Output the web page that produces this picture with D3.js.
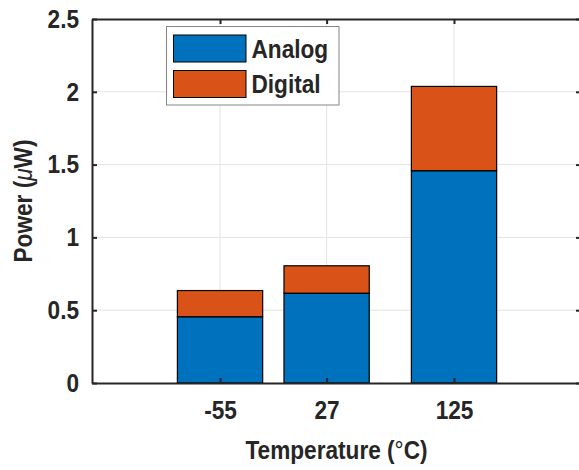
<!DOCTYPE html>
<html>
<head>
<meta charset="utf-8">
<script src="https://cdn.jsdelivr.net/npm/d3@7"></script>
<style>
  body { margin: 0; background: #fff; }
  svg text { font-family: "Liberation Sans", Arial, sans-serif; font-weight: bold; fill: #262626; }
</style>
</head>
<body>
<div id="chart"></div>
<script>
/* Stacked power bars per temperature */

// data
const temps = [-55, 27, 125];
const analog = [0.455, 0.617, 1.458];
const digital = [0.18, 0.188, 0.579];
const seriesNames = ["Analog", "Digital"];
const colors = ["#0072BD", "#D95319"];
const yTicks = [0, 0.5, 1, 1.5, 2, 2.5];

const width = 579,
    height = 470,
    margin = ({ top: 19, right: -2, bottom: 87, left: 92 });

const fontSize = 26,
    squeezeX = 0.87; // the original font is a narrow one

let svg = d3.select("#chart")
    .append("svg")
    .attr("width", width)
    .attr("height", height);

// narrow the glyphs horizontally around the text's own x
function squeeze(sel) {
    sel.each(function () {
        let t = d3.select(this);
        let ax = +t.attr("x") || 0;
        t.attr("transform", `translate(${ax},0) scale(${squeezeX},1) translate(${-ax},0)`);
    });
}

// numeric x axis, like matlab bar()
let x = d3.scaleLinear()
    .domain([-153.5, 222.7])
    .range([margin.left, width - margin.right]);

let y = d3.scaleLinear()
    .domain([0, 2.5])
    .range([height - margin.bottom, margin.top]);

const barW = x(0.8 * 82) - x(0);

// grid
svg.append("g")
    .selectAll("line")
    .data(yTicks.slice(1, -1))
    .join("line")
    .attr("x1", margin.left).attr("x2", width - margin.right)
    .attr("y1", d => y(d)).attr("y2", d => y(d))
    .attr("stroke", "#e3e3e3").attr("stroke-width", 1);

svg.append("g")
    .selectAll("line")
    .data(temps)
    .join("line")
    .attr("x1", d => x(d)).attr("x2", d => x(d))
    .attr("y1", margin.top).attr("y2", height - margin.bottom)
    .attr("stroke", "#e3e3e3").attr("stroke-width", 1);

// stacked bars
let rows = temps.map((t, i) => ({ temp: t, Analog: analog[i], Digital: digital[i] }));
let stacked = d3.stack().keys(seriesNames)(rows);

svg.append("g")
    .selectAll("g")
    .data(stacked)
    .join("g")
    .attr("fill", (d, i) => colors[i])
    .selectAll("rect")
    .data(d => d)
    .join("rect")
    .attr("x", d => x(d.data.temp) - barW / 2)
    .attr("width", barW)
    .attr("y", d => y(d[1]))
    .attr("height", d => y(d[0]) - y(d[1]))
    .attr("stroke", "#000")
    .attr("stroke-width", 1.2);

// axes, ticks pointing inward
const axisColor = "#262626";
let yAxis = svg.append("g")
    .attr("transform", `translate(${margin.left},0)`)
    .call(d3.axisLeft(y).tickValues(yTicks).tickFormat(d => String(d)).tickSizeInner(-5).tickSizeOuter(0).tickPadding(13));

let yAxisR = svg.append("g")
    .attr("transform", `translate(${width - margin.right},0)`)
    .call(d3.axisRight(y).tickValues(yTicks).tickFormat("").tickSizeInner(-5).tickSizeOuter(0));

let xAxis = svg.append("g")
    .attr("transform", `translate(0,${height - margin.bottom})`)
    .call(d3.axisBottom(x).tickValues(temps).tickFormat(d => String(d)).tickSizeInner(-5).tickSizeOuter(0).tickPadding(18));

let xAxisT = svg.append("g")
    .attr("transform", `translate(0,${margin.top})`)
    .call(d3.axisTop(x).tickValues(temps).tickFormat("").tickSizeInner(-5).tickSizeOuter(0));

for (let a of [yAxis, yAxisR, xAxis, xAxisT]) {
    a.select(".domain").attr("stroke", axisColor).attr("stroke-width", 2);
    a.selectAll(".tick line").attr("stroke", axisColor).attr("stroke-width", 2);
    a.selectAll("text").style("font-size", fontSize + "px").attr("fill", axisColor);
}
squeeze(yAxis.selectAll("text"));
squeeze(xAxis.selectAll("text"));

// axis titles
svg.append("text")
    .attr("x", (margin.left + width - margin.right) / 2)
    .attr("y", 459)
    .attr("text-anchor", "middle")
    .style("font-size", fontSize + "px")
    .html('Temperature (<tspan font-weight="normal">°</tspan>C)')
    .call(squeeze);

svg.append("text")
    .attr("transform", `translate(32,${(margin.top + height - margin.bottom) / 2}) rotate(-90) scale(${squeezeX},1)`)
    .attr("text-anchor", "middle")
    .style("font-size", fontSize + "px")
    .html('Power (<tspan font-style="italic" font-weight="normal">μ</tspan>W)');

// legend
let legend = svg.append("g").attr("transform", "translate(166.5,26.5)");
legend.append("rect")
    .attr("width", 172.5).attr("height", 78.5)
    .attr("fill", "#fff").attr("stroke", "#858585").attr("stroke-width", 1);

let item = legend.selectAll(".item")
    .data(seriesNames)
    .join("g")
    .attr("class", "item")
    .attr("transform", (d, i) => `translate(7,${8.5 + i * 35.5})`);

item.append("rect")
    .attr("width", 72.5).attr("height", 27)
    .attr("fill", (d, i) => colors[i])
    .attr("stroke", "#000").attr("stroke-width", 1);

item.append("text")
    .attr("x", 78)
    .attr("y", 22.5)
    .style("font-size", fontSize + "px")
    .attr("fill", "#000")
    .text(d => d)
    .call(squeeze);
</script>
</body>
</html>
